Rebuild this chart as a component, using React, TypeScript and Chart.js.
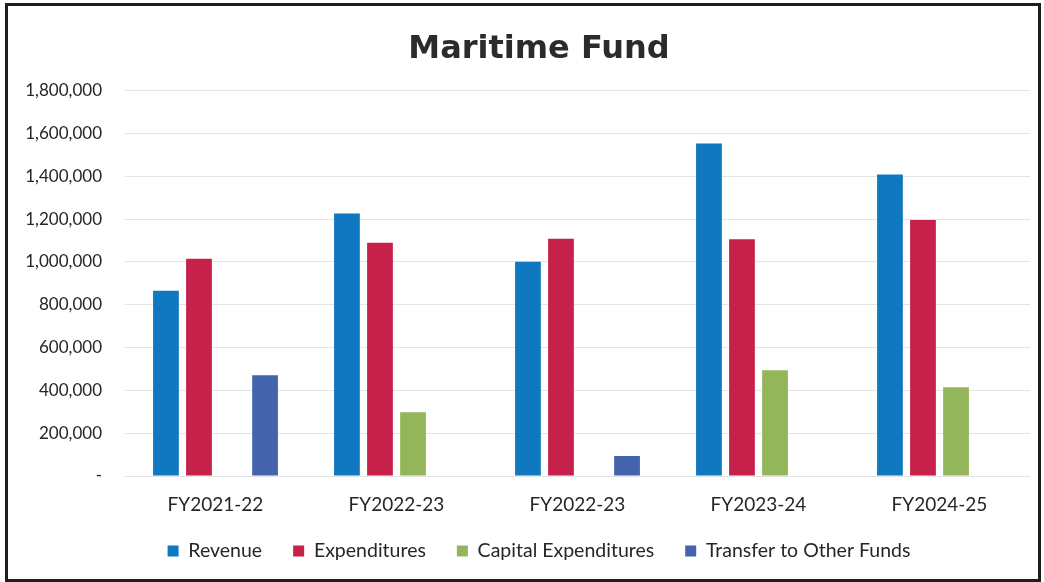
import React, { useEffect, useRef } from "react";
import { Chart, registerables } from "chart.js";

Chart.register(...registerables);

const categories = ["FY2021-22", "FY2022-23", "FY2022-23", "FY2023-24", "FY2024-25"];
const revenue = [865000, 1226000, 1001000, 1553000, 1408000];
const expenditures = [1015000, 1090000, 1108000, 1106000, 1196000];
const capitalExpenditures = [null, 298000, null, 494000, 415000];
const transferToOtherFunds = [471000, null, 94000, null, null];
const yTickValues = [0, 200000, 400000, 600000, 800000, 1000000, 1200000, 1400000, 1600000, 1800000];

const seriesNames = ["Revenue", "Expenditures", "Capital Expenditures", "Transfer to Other Funds"];
const seriesColors = ["#0f78c0", "#c6214b", "#93b65a", "#4463ad"];

export default function App() {
  const canvasRef = useRef<HTMLCanvasElement | null>(null);

  useEffect(() => {
    if (!canvasRef.current) return;
    const seriesData = [revenue, expenditures, capitalExpenditures, transferToOtherFunds];
    const chart = new Chart(canvasRef.current, {
      type: "bar",
      data: {
        labels: categories,
        datasets: seriesNames.map((name, i) => ({
          label: name,
          data: seriesData[i] as any,
          backgroundColor: seriesColors[i],
          borderWidth: 0,
          categoryPercentage: 0.73,
          barPercentage: 0.78,
        })),
      },
      options: {
        animation: false,
        responsive: false,
        maintainAspectRatio: false,
        layout: { padding: { left: 40, right: 8, top: 0, bottom: 8.25 } },
        plugins: {
          title: {
            display: true,
            text: "Maritime Fund",
            color: "#2b2b2b",
            font: { family: "'DejaVu Sans', sans-serif", size: 32, weight: "bold", lineHeight: 1.2 },
            padding: { top: 24.8, bottom: 21.5 },
          },
          legend: {
            position: "bottom",
            labels: {
              boxWidth: 11,
              boxHeight: 11,
              padding: 31,
              color: "#262626",
              font: { family: "Lato, sans-serif", size: 19.5 },
            },
          },
          tooltip: { enabled: false },
        },
        scales: {
          x: {
            grid: { display: false, drawTicks: false },
            border: { display: false },
            ticks: {
              color: "#262626",
              padding: 17.6,
              font: { family: "Lato, sans-serif", size: 19 },
              maxRotation: 0,
              autoSkip: false,
            },
            afterFit: (scale: any) => {
              scale.height = 34.25;
              scale._computeLabelArea = () => undefined;
            },
          },
          y: {
            min: 0,
            max: 1800000,
            grid: { color: "#e4e4e4", drawTicks: false, lineWidth: 1 },
            border: { display: false },
            afterBuildTicks: (scale: any) => {
              scale.ticks = yTickValues.map((v) => ({ value: v }));
            },
            ticks: {
              color: "#262626",
              padding: 23,
              font: { family: "Lato, sans-serif", size: 17 },
              callback: (value: any) => (Number(value) === 0 ? "-" : Number(value).toLocaleString("en-US")),
            },
            afterFit: (scale: any) => {
              scale.width = 77;
              scale._computeLabelArea = () => undefined;
            },
          },
        },
      },
    });
    return () => chart.destroy();
  }, []);

  return (
    <div
      style={{
        position: "absolute",
        left: 5,
        top: 3,
        width: 1036,
        height: 579,
        border: "3px solid #1e1e1e",
        boxSizing: "border-box",
        background: "#ffffff",
      }}
    >
      <canvas ref={canvasRef} width={1030} height={573} style={{ display: "block", width: 1030, height: 573 }} />
    </div>
  );
}
